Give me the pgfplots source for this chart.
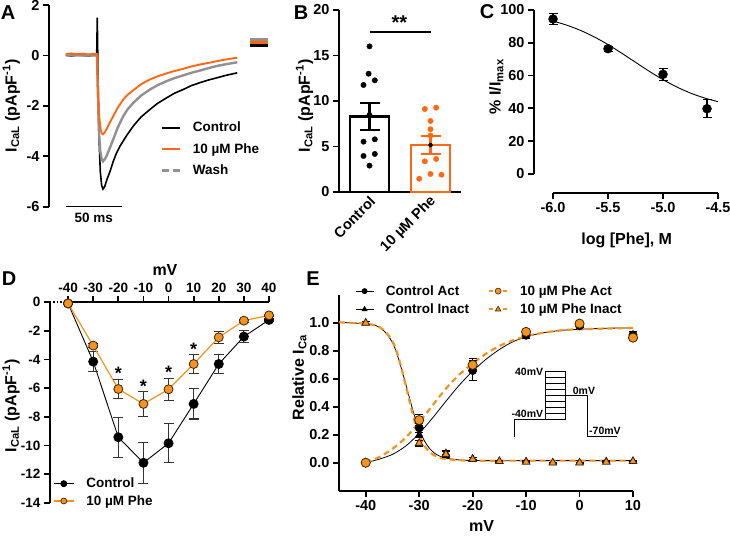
\documentclass[border=0pt]{standalone}
\usepackage{fontspec}
\setmainfont{Liberation Sans}
\usepackage{pgfplots}
\pgfplotsset{compat=1.18}
\definecolor{orA}{RGB}{255,104,18}
\definecolor{orD}{RGB}{246,146,30}
\definecolor{grA}{RGB}{145,145,145}
\newcommand{\fs}[1]{\bfseries\fontsize{#1}{#1}\selectfont}
\pgfplotsset{
  panel/.style={scale only axis, anchor=south west, clip=false,
    axis line style={line width=1.8pt},
    tick style={line width=1.8pt, black},
    major tick length=6pt,
    ticklabel style={font=\fs{14.5}},
    label style={font=\fs{16}},
    /pgf/number format/assume math mode=true,
    legend cell align=left,
  },
}
\begin{document}
\begin{tikzpicture}
\useasboundingbox (0,0) rectangle (730pt,535pt);
% panel letters
\node[font=\fs{20}] at (8pt,522pt) {A};
\node[font=\fs{20}] at (301pt,522.5pt) {B};
\node[font=\fs{20}] at (487pt,523.5pt) {C};
\node[font=\fs{20}] at (9pt,256pt) {D};
\node[font=\fs{20}] at (313pt,256pt) {E};

% ---------------- A ----------------
\begin{axis}[panel, at={(49pt,328.3pt)}, width=219.5pt, height=201.7pt,
  xmin=0, xmax=196, ymin=-6, ymax=2,
  axis x line=none, axis y line*=left, tick align=outside,
  ytick={-6,-4,-2,0,2},
  ylabel={I\textsubscript{CaL} (pApF\textsuperscript{-1})},
  ylabel style={at={(axis description cs:-0.172,0.5)}, anchor=center},
  legend style={draw=none, fill=none, at={(axis description cs:0.5057,0.43)}, anchor=north west,
    font=\fs{13.5}, inner sep=0pt, row sep=6pt,
    /tikz/every odd column/.style={column sep=10pt}},
  legend image code/.code={\draw[#1] (0pt,0pt) -- (18pt,0pt);},
]
\addlegendimage{black, line width=1.8pt}\addlegendentry{Control}
\addlegendimage{orA, line width=2pt}\addlegendentry{10 µM Phe}
\addlegendimage{grA, line width=2.6pt, dash pattern=on 7pt off 4pt}\addlegendentry{Wash}
\addplot[black, line width=1.6pt, forget plot] coordinates {(15,0.02)(20,-0.03)(25,0.02)(30,0)(35,-0.02)(40,0.01)(42.6,0)(43.1,1.5)(43.7,-0.5)(44.6,-3.2)(45.8,-4.6)(47,-5.15)(48.2,-5.3)(49.8,-5.2)(51.5,-4.95)(54.5,-4.6)(57.4,-4.2)(60,-3.9)(63.4,-3.6)(69,-3.2)(75.3,-2.8)(82,-2.45)(90.2,-2.14)(97,-1.9)(105.1,-1.68)(112,-1.5)(119.9,-1.35)(127,-1.2)(134.8,-1.08)(142,-0.98)(149.7,-0.89)(158,-0.79)(168.1,-0.69)};
\addplot[grA, line width=2.4pt, forget plot] coordinates {(15,0)(30,0)(42.9,0)(43.6,-1.5)(44.6,-3.0)(45.8,-3.8)(47,-4.1)(48.2,-4.2)(49.8,-4.12)(51.5,-3.98)(54.5,-3.65)(57.4,-3.33)(61,-2.9)(66.3,-2.41)(70,-2.15)(75.3,-1.88)(82,-1.6)(90.2,-1.35)(97,-1.18)(105.1,-1.02)(112,-0.9)(119.9,-0.79)(127,-0.69)(134.8,-0.6)(142,-0.51)(149.7,-0.42)(158,-0.35)(168.1,-0.27)};
\addplot[orA, line width=1.9pt, forget plot] coordinates {(15,0.06)(20,0.08)(25,0.05)(30,0.07)(35,0.04)(40,0.06)(42.9,0.05)(43.6,-1.2)(44.6,-2.3)(46,-2.9)(47,-3.08)(48.2,-3.13)(49.8,-3.05)(51.5,-2.92)(54.5,-2.65)(57.4,-2.41)(61,-2.1)(66.3,-1.75)(70,-1.57)(75.3,-1.38)(82,-1.15)(90.2,-0.95)(97,-0.83)(105.1,-0.71)(112,-0.62)(119.9,-0.53)(127,-0.44)(134.8,-0.36)(142,-0.3)(149.7,-0.23)(158,-0.16)(168.1,-0.09)};
\addplot[grA, line width=3.5pt, forget plot] coordinates {(179.5,0.62)(195.5,0.62)};
\addplot[black, line width=3.5pt, forget plot] coordinates {(179.5,0.40)(195.5,0.40)};
\addplot[orA, line width=3pt, forget plot] coordinates {(179.5,0.52)(195.5,0.52)};
\draw[line width=1.6pt] (axis cs:15,-6) -- (axis cs:65,-6) node[midway, below=2pt, font=\fs{13.5}] {50 ms};
\end{axis}

% ---------------- B ----------------
\begin{axis}[panel, at={(339pt,343pt)}, width=122pt, height=182pt,
  xmin=0.5, xmax=2.5, ymin=0, ymax=20,
  axis x line*=bottom, axis y line*=left, tick align=outside,
  xtick={1,2}, xticklabels={Control,10 µM Phe},
  xtick style={draw=none},
  x tick label style={rotate=45, anchor=east, inner sep=0.5pt, font=\fs{14.5}, xshift=2pt, yshift=-3pt},
  ytick={0,5,10,15,20},
  ylabel={I\textsubscript{CaL} (pApF\textsuperscript{-1})},
  ylabel style={at={(axis description cs:-0.283,0.473)}, anchor=center},
]
\addplot[ybar, bar width=0.64, fill=white, draw=black, line width=2.6pt] coordinates {(1,8.3)};
\addplot[ybar, bar width=0.64, fill=white, draw=orA, line width=2.6pt] coordinates {(2,5.15)};
\addplot[only marks, mark=*, mark size=2.7pt, black] coordinates {(1,16.0)(0.985,13.0)(0.902,11.76)(1.087,12.27)(1,8.46)(0.902,5.53)(1.087,5.79)(0.902,3.96)(1.087,4.18)(1,2.9)};
\addplot[only marks, mark=*, mark size=2.7pt, orA] coordinates {(1.907,9.12)(2.093,9.27)(2,7.8)(2,6.89)(2,6.2)(1.907,3.37)(2.093,3.63)(1.815,1.46)(2,1.98)(2.18,1.9)};
\addplot[only marks, mark=none, error bars/.cd, y dir=both, y explicit,
  error bar style={line width=2.2pt, draw=black},
  error mark options={rotate=90, mark size=10pt, line width=2.2pt, draw=black}] coordinates {(1,8.3) +- (0,1.45)};
\addplot[only marks, mark=none, error bars/.cd, y dir=both, y explicit,
  error bar style={line width=2.2pt, draw=orA},
  error mark options={rotate=90, mark size=10pt, line width=2.2pt, draw=orA}] coordinates {(2,5.15) +- (0,1.0)};
\draw[line width=2pt] (axis cs:1,17.6) -- (axis cs:2,17.6);
\node[anchor=base, font=\fs{20}] at (axis cs:1.49,17.9) {**};
\end{axis}

% ---------------- C ----------------
\begin{axis}[panel, at={(534pt,342pt)}, width=184pt, height=183pt,
  xmin=-6.173, xmax=-4.5, ymin=-11.59, ymax=100,
  axis x line*=bottom, axis y line*=left, tick align=outside,
  axis line style={draw=none},
  xtick={-6,-5.5,-5,-4.5}, ytick={0,20,40,60,80,100},
  xticklabel style={/pgf/number format/.cd, fixed, fixed zerofill, precision=1},
  xlabel={log [Phe], M}, xlabel style={at={(axis description cs:0.504,-0.257)}, anchor=center},
  ylabel={\% I/I\textsubscript{max}}, ylabel style={at={(axis description cs:-0.205,0.581)}, anchor=center},
]
\draw[line width=1.8pt] (axis cs:-6,-11.59) -- (axis cs:-4.5,-11.59);
\draw[line width=1.8pt] (axis cs:-6.173,0) -- (axis cs:-6.173,100);
\addplot[black, line width=0.9pt, smooth] coordinates {(-6,93.24)(-5.875,90.75)(-5.75,87.55)(-5.625,83.59)(-5.5,78.9)(-5.375,73.65)(-5.25,68.11)(-5.125,62.62)(-5,57.53)(-4.875,53.06)(-4.75,49.34)(-4.625,46.38)(-4.5,44.09)};
\addplot[only marks, mark=*, mark size=4.5pt, black, error bars/.cd, y dir=both, y explicit,
  error bar style={line width=1.2pt},
  error mark options={rotate=90, mark size=4.5pt, line width=1.2pt}] coordinates {(-6,94.5) +- (0,3.4) (-5.5,76.4) +- (0,1.5) (-5,60.8) +- (0,3.6) (-4.6,39.8) +- (0,5.4)};
\end{axis}

% ---------------- D ----------------
\begin{axis}[panel, at={(50pt,32pt)}, width=219pt, height=201pt,
  xmin=-47.2, xmax=40, ymin=-14, ymax=0,
  axis x line*=top, axis y line*=left, tick align=outside,
  x axis line style={draw=none},
  ticklabel style={font=\fs{13.5}},
  xtick={-40,-30,...,40}, ytick={-14,-12,-10,-8,-6,-4,-2,0},
  xlabel={mV}, xlabel style={at={(axis description cs:0.525,1.159)}, anchor=center},
  ylabel={I\textsubscript{CaL} (pApF\textsuperscript{-1})},
  ylabel style={at={(axis description cs:-0.178,0.483)}, anchor=center},
  legend style={draw=none, fill=none, at={(axis description cs:0.0137,0.135)}, anchor=north west,
    font=\fs{13.5}, inner sep=0pt, row sep=2pt,
    /tikz/every odd column/.style={column sep=10pt}},
  legend image code/.code={\draw[mark repeat=2,mark phase=2,#1] plot coordinates {(0pt,0pt) (10pt,0pt) (20pt,0pt)};},
]
\draw[line width=1.8pt] (axis cs:-40,0) -- (axis cs:40,0);
\draw[line width=1.4pt, dotted] (axis cs:-47.2,0) -- (axis cs:-40,0);
\addlegendimage{black, line width=0.9pt, mark=*, mark size=3pt}\addlegendentry{Control}
\addlegendimage{orD, line width=1.2pt, mark=*, mark size=3pt, mark options={fill=orD, draw=black!75!orD, line width=0.7pt}}\addlegendentry{10 µM Phe}
\addplot[black, line width=0.9pt, mark=*, mark size=4.5pt, forget plot,
  error bars/.cd, y dir=both, y explicit,
  error bar style={line width=1.1pt, black!80},
  error mark options={rotate=90, mark size=5pt, line width=1.1pt, black!80}] coordinates {
  (-40,-0.1) +- (0,0.05) (-30,-4.15) +- (0,0.7) (-20,-9.42) +- (0,1.39) (-10,-11.2) +- (0,1.43) (0,-9.84) +- (0,1.35) (10,-7.1) +- (0,1.05) (20,-4.32) +- (0,0.67) (30,-2.41) +- (0,0.4) (40,-1.25) +- (0,0.1)};
\addplot[orD, line width=1.2pt, mark=*, mark size=4.5pt, forget plot,
  mark options={fill=orD, draw=black!75!orD, line width=0.8pt},
  error bars/.cd, y dir=both, y explicit,
  error bar style={line width=1.1pt, black!80},
  error mark options={rotate=90, mark size=5pt, line width=1.1pt, black!80}] coordinates {
  (-40,-0.1) +- (0,0.05) (-30,-3.04) +- (0,0.15) (-20,-6.06) +- (0,0.66) (-10,-7.1) +- (0,0.87) (0,-6.08) +- (0,0.78) (10,-4.32) +- (0,0.64) (20,-2.46) +- (0,0.4) (30,-1.3) +- (0,0.1) (40,-0.93) +- (0,0.05)};
\node[anchor=base, font=\fs{18}] at (axis cs:-20,-5.41) {*};
\node[anchor=base, font=\fs{18}] at (axis cs:-10,-6.29) {*};
\node[anchor=base, font=\fs{18}] at (axis cs:0,-5.31) {*};
\node[anchor=base, font=\fs{18}] at (axis cs:10,-3.74) {*};
\end{axis}

% ---------------- E ----------------
\begin{axis}[panel, at={(339pt,44.3pt)}, width=294pt, height=195.7pt,
  xmin=-45, xmax=10, ymin=-0.2, ymax=1.2,
  axis x line*=bottom, axis y line*=left, tick align=outside,
  xtick={-40,-30,-20,-10,0,10}, ytick={0,0.2,0.4,0.6,0.8,1.0},
  yticklabel style={/pgf/number format/.cd, fixed, fixed zerofill, precision=1},
  xlabel={mV}, xlabel style={at={(axis description cs:0.485,-0.178)}, anchor=center},
  ylabel={Relative I\textsubscript{Ca}}, ylabel style={at={(axis description cs:-0.135,0.578)}, anchor=center},
  legend columns=2,
  legend style={draw=none, fill=none, at={(axis description cs:0.0544,1.06)}, anchor=north west,
    font=\fs{13.5}, inner sep=0pt, row sep=3pt,
    /tikz/every odd column/.style={column sep=10pt},
    /tikz/every even column/.style={column sep=17pt}},
  legend image code/.code={\draw[mark repeat=2,mark phase=2,#1] plot coordinates {(0pt,0pt) (9pt,0pt) (18pt,0pt)};},
]
\addlegendimage{black, line width=0.8pt, mark=*, mark size=2.5pt}\addlegendentry{Control Act}
\addlegendimage{orD, line width=1.8pt, dash pattern=on 4pt off 3pt, mark=*, mark size=3pt, mark options={solid, fill=orD, draw=black!75!orD, line width=0.6pt}}\addlegendentry{10 µM Phe Act}
\addlegendimage{black, line width=0.8pt, mark=triangle*, mark size=2.8pt}\addlegendentry{Control Inact}
\addlegendimage{orD, line width=1.8pt, dash pattern=on 4pt off 3pt, mark=triangle*, mark size=3.2pt, mark options={solid, fill=orD, draw=black!75!orD, line width=0.6pt}}\addlegendentry{10 µM Phe Inact}
% fits
\addplot[black, line width=0.8pt, smooth, forget plot] coordinates {(-40,0.0)(-37.5,0.025)(-35,0.06)(-32.5,0.12)(-30,0.21)(-27.5,0.32)(-25,0.44)(-22.5,0.555)(-20,0.655)(-17.5,0.74)(-15,0.81)(-12.5,0.865)(-10,0.9)(-7.5,0.925)(-5,0.94)(-2.5,0.95)(0,0.955)(5,0.962)(10,0.965)};
\addplot[black, line width=0.8pt, smooth, forget plot] coordinates {(-45,1.005)(-42.5,1.0)(-40,0.995)(-38,0.98)(-36.5,0.94)(-35,0.86)(-34,0.76)(-33,0.63)(-32,0.49)(-31,0.35)(-30,0.24)(-29,0.155)(-28,0.1)(-27,0.065)(-26,0.045)(-25,0.033)(-22.5,0.02)(-20,0.016)(-15,0.015)(-10,0.015)(0,0.015)(10,0.015)};
\addplot[orD, line width=2.2pt, dash pattern=on 6pt off 4pt, smooth, forget plot] coordinates {(-40,0.0)(-37.5,0.04)(-35,0.1)(-32.5,0.18)(-30,0.29)(-27.5,0.41)(-25,0.53)(-22.5,0.63)(-20,0.71)(-17.5,0.78)(-15,0.835)(-12.5,0.875)(-10,0.905)(-7.5,0.925)(-5,0.94)(-2.5,0.95)(0,0.955)(5,0.96)(10,0.965)};
\addplot[orD, line width=2.2pt, dash pattern=on 6pt off 4pt, smooth, forget plot] coordinates {(-45,1.005)(-42.5,1.0)(-40,0.995)(-38,0.98)(-36.5,0.945)(-35,0.87)(-34,0.77)(-33,0.63)(-32,0.47)(-31,0.32)(-30,0.2)(-29,0.12)(-28,0.075)(-27,0.05)(-26,0.035)(-25,0.027)(-22.5,0.018)(-20,0.015)(-15,0.015)(-10,0.015)(0,0.015)(10,0.015)};
% points
\addplot[only marks, black, mark=*, mark size=4.2pt, forget plot,
  error bars/.cd, y dir=both, y explicit, error bar style={line width=0.9pt},
  error mark options={rotate=90, mark size=4pt, line width=0.9pt}] coordinates {(-40,0) +- (0,0.01) (-30,0.25) +- (0,0.03) (-20,0.66) +- (0,0.07) (-10,0.912) +- (0,0.02) (0,0.98) +- (0,0.01) (10,0.915) +- (0,0.025)};
\addplot[only marks, black, mark=triangle*, mark size=4.2pt, forget plot,
  error bars/.cd, y dir=both, y explicit, error bar style={line width=0.9pt},
  error mark options={rotate=90, mark size=4pt, line width=0.9pt}] coordinates {(-40,1.0) +- (0,0.01) (-30,0.2) +- (0,0.02) (-25,0.07) +- (0,0.02) (-20,0.03) +- (0,0.01) (-15,0.012) +- (0,0.005) (-10,0.01) +- (0,0.005) (-5,0.0) +- (0,0.005) (0,0.0) +- (0,0.005) (5,0.01) +- (0,0.005) (10,0.012) +- (0,0.005)};
\addplot[only marks, mark=*, mark size=4.6pt, forget plot, mark options={fill=orD, draw=black!75!orD, line width=0.8pt},
  error bars/.cd, y dir=both, y explicit, error bar style={line width=0.9pt, black},
  error mark options={rotate=90, mark size=4pt, line width=0.9pt, black}] coordinates {(-40,0.0) +- (0,0.01) (-30,0.305) +- (0,0.04) (-20,0.70) +- (0,0.045) (-10,0.936) +- (0,0.01) (0,0.995) +- (0,0.01) (10,0.895) +- (0,0.02)};
\addplot[only marks, mark=triangle*, mark size=4.4pt, forget plot, mark options={fill=orD, draw=black!75!orD, line width=0.8pt},
  error bars/.cd, y dir=both, y explicit, error bar style={line width=0.9pt, black},
  error mark options={rotate=90, mark size=4pt, line width=0.9pt, black}] coordinates {(-40,1.0) +- (0,0.01) (-30,0.14) +- (0,0.02) (-25,0.06) +- (0,0.02) (-20,0.025) +- (0,0.01) (-15,0.01) +- (0,0.005) (-10,0.005) +- (0,0.005) (-5,0.0) +- (0,0.005) (0,0.0) +- (0,0.005) (5,0.005) +- (0,0.005) (10,0.01) +- (0,0.005)};
% inset: voltage protocol
\draw[line width=0.8pt] (axis cs:-12.26,0.186) -- (axis cs:-12.26,0.312) -- (axis cs:-6.46,0.312);
\draw[line width=0.8pt] (axis cs:-6.46,0.312) rectangle (axis cs:-2.72,0.655);
\draw[line width=0.8pt] (axis cs:-6.46,0.355) -- (axis cs:-2.72,0.355);
\draw[line width=0.8pt] (axis cs:-6.46,0.398) -- (axis cs:-2.72,0.398);
\draw[line width=0.8pt] (axis cs:-6.46,0.441) -- (axis cs:-2.72,0.441);
\draw[line width=0.8pt] (axis cs:-6.46,0.484) -- (axis cs:-2.72,0.484);
\draw[line width=0.8pt] (axis cs:-6.46,0.526) -- (axis cs:-2.72,0.526);
\draw[line width=0.8pt] (axis cs:-6.46,0.569) -- (axis cs:-2.72,0.569);
\draw[line width=0.8pt] (axis cs:-6.46,0.612) -- (axis cs:-2.72,0.612);
\draw[line width=0.8pt] (axis cs:-2.72,0.479) -- (axis cs:1.4,0.479) -- (axis cs:1.4,0.186) -- (axis cs:6.95,0.186);
\node[anchor=east, font=\fs{10.5}, inner sep=0pt] at (axis cs:-6.78,0.652) {40mV};
\node[anchor=east, font=\fs{10.5}, inner sep=0pt] at (axis cs:-6.78,0.35) {-40mV};
\node[anchor=west, font=\fs{10.5}, inner sep=0pt] at (axis cs:-1.28,0.514) {0mV};
\node[anchor=west, font=\fs{10.5}, inner sep=0pt] at (axis cs:1.77,0.231) {-70mV};
\end{axis}
\end{tikzpicture}
\end{document}
